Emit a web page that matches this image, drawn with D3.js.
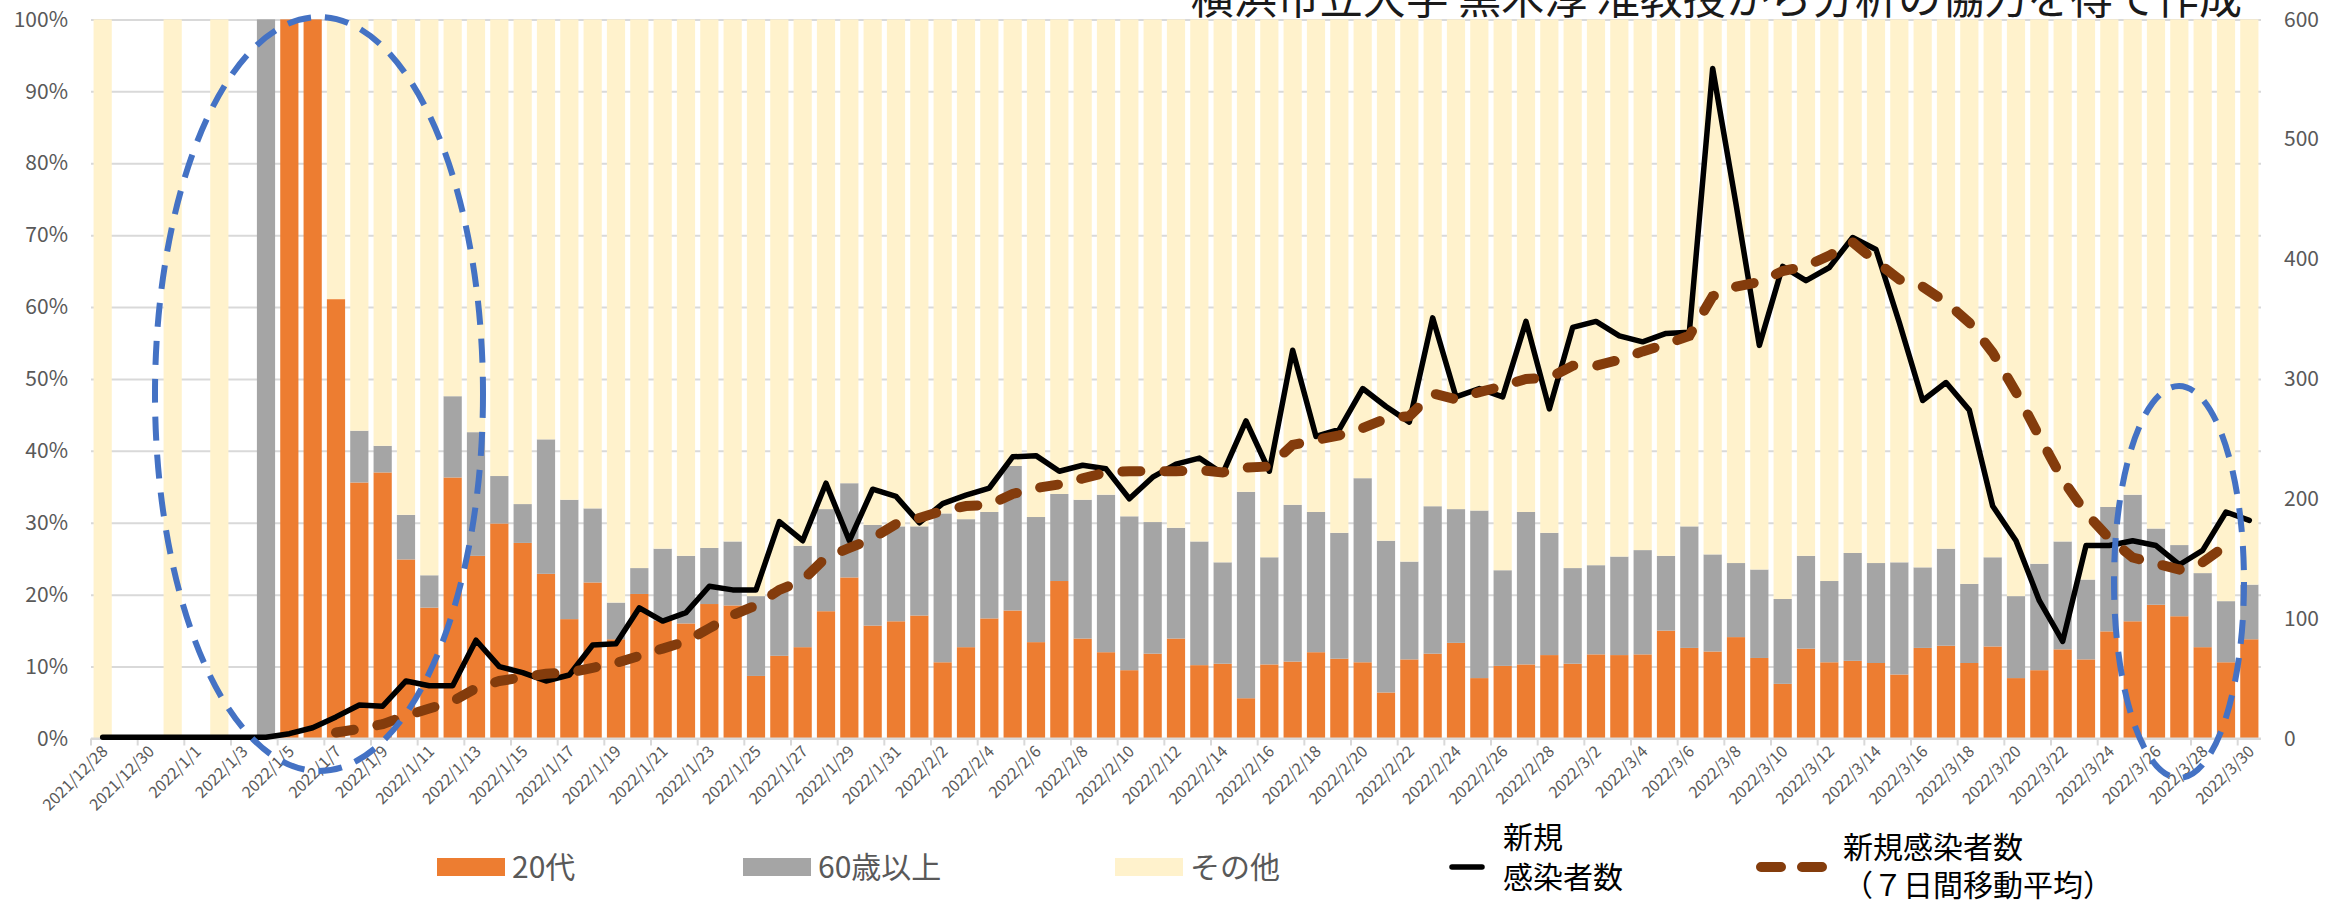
<!DOCTYPE html>
<html><head><meta charset="utf-8">
<script src="https://cdn.jsdelivr.net/npm/d3@7"></script>
<style>html,body{margin:0;padding:0;background:#fff;overflow:hidden}</style>
</head><body><svg id="chart" width="2340" height="903"></svg>
<script>
const dates = ["2021/12/28","2021/12/29","2021/12/30","2021/12/31",
"2022/1/1","2022/1/2","2022/1/3","2022/1/4","2022/1/5","2022/1/6","2022/1/7","2022/1/8","2022/1/9","2022/1/10",
"2022/1/11","2022/1/12","2022/1/13","2022/1/14","2022/1/15","2022/1/16","2022/1/17","2022/1/18","2022/1/19","2022/1/20",
"2022/1/21","2022/1/22","2022/1/23","2022/1/24","2022/1/25","2022/1/26","2022/1/27","2022/1/28","2022/1/29","2022/1/30","2022/1/31",
"2022/2/1","2022/2/2","2022/2/3","2022/2/4","2022/2/5","2022/2/6","2022/2/7","2022/2/8","2022/2/9","2022/2/10",
"2022/2/11","2022/2/12","2022/2/13","2022/2/14","2022/2/15","2022/2/16","2022/2/17","2022/2/18","2022/2/19","2022/2/20",
"2022/2/21","2022/2/22","2022/2/23","2022/2/24","2022/2/25","2022/2/26","2022/2/27","2022/2/28",
"2022/3/1","2022/3/2","2022/3/3","2022/3/4","2022/3/5","2022/3/6","2022/3/7","2022/3/8","2022/3/9","2022/3/10",
"2022/3/11","2022/3/12","2022/3/13","2022/3/14","2022/3/15","2022/3/16","2022/3/17","2022/3/18","2022/3/19","2022/3/20",
"2022/3/21","2022/3/22","2022/3/23","2022/3/24","2022/3/25","2022/3/26","2022/3/27","2022/3/28","2022/3/29","2022/3/30"];

// share of new cases (%) — null = no bar that day
const age20s = [0,null,null,0,null,0,null,0,100,100,61.1,35.6,37.0,24.9,18.2,36.3,25.4,29.9,27.2,22.9,16.6,21.7,13.8,20.1,
16.4,16.0,18.7,18.5,8.7,11.5,12.7,17.7,22.4,15.7,16.3,17.1,10.6,12.7,16.7,17.8,13.4,21.9,13.9,12.0,9.5,11.8,13.9,10.2,
10.4,5.6,10.3,10.7,12.0,11.1,10.6,6.4,11.0,11.8,13.3,8.4,10.1,10.3,11.6,10.4,11.7,11.6,11.7,15.0,12.6,12.1,14.1,11.2,
7.6,12.5,10.6,10.8,10.5,8.9,12.6,12.9,10.5,12.8,8.4,9.5,12.4,11.0,14.9,16.3,18.6,17.0,12.7,10.6,13.8];
const age60plus = [0,null,null,0,null,0,null,100,0,0,0,7.2,3.7,6.2,4.5,11.3,17.2,6.6,5.4,18.7,16.6,10.3,5.1,3.6,
10.0,9.4,7.8,8.9,11.1,9.3,14.1,14.2,13.1,14.0,13.2,12.4,20.7,17.8,14.8,20.1,17.4,12.1,19.3,21.9,21.4,18.3,15.4,17.2,
14.1,28.7,14.9,21.8,19.5,17.5,25.6,21.1,13.6,20.5,18.6,23.3,13.3,21.2,17.0,13.3,12.4,13.7,14.5,10.4,16.9,13.5,10.3,12.3,
11.8,12.9,11.3,15.0,13.9,15.6,11.2,13.5,11.0,12.4,11.4,14.8,15.0,11.1,17.3,17.6,10.6,9.9,10.3,8.5,7.6];
const others = [100,null,null,100,null,100,null,0,0,0,38.9,57.2,59.3,68.9,77.3,52.4,57.4,63.5,67.4,58.4,66.8,68.0,81.1,76.3,
73.6,74.6,73.5,72.6,80.2,79.2,73.2,68.1,64.5,70.3,70.5,70.5,68.7,69.5,68.5,62.1,69.2,66.0,66.8,66.1,69.1,69.9,70.7,72.6,
75.5,65.7,74.8,67.5,68.5,71.4,63.8,72.5,75.4,67.7,68.1,68.3,76.6,68.5,71.4,76.3,75.9,74.7,73.8,74.6,70.5,74.4,75.6,76.5,
80.6,74.6,78.1,74.2,75.6,75.5,76.2,73.6,78.5,74.8,80.2,75.7,72.6,77.9,67.8,66.1,70.8,73.1,77.0,80.9,78.6];

// new cases (right axis)
const newCases = [1,1,1,1,1,1,1,1,4,9,18,28,27,48,44,44,82,60,55,48,53,78,79,109,98,105,127,124,124,181,165,213,165,208,
202,180,196,203,209,235,236,223,228,225,200,218,229,234,221,265,223,324,252,258,292,277,264,351,285,292,285,348,275,
343,348,336,331,338,339,559,446,328,394,382,393,418,408,347,282,297,274,194,165,115,81,161,161,165,161,145,157,189,182];
// 7-day moving average (right axis)
const movingAvg = [null,null,null,null,null,null,null,null,null,null,5,8,12,19,25,31,42,48,51,54,55,59,63,69,75,81,92,103,
111,124,132,151,159,167,179,184,190,194,195,204,209,212,217,222,223,223,223,224,222,226,227,245,249,253,259,267,269,288,
283,289,294,300,301,311,311,316,323,329,336,369,377,381,390,394,403,414,398,383,377,364,347,322,289,252,216,188,167,151,
146,141,147,161,null];

const pctTicks = [0,10,20,30,40,50,60,70,80,90,100];
const countTicks = [0,100,200,300,400,500,600];
const seriesNames = ["20代","60歳以上","その他"];
const seriesColors = ["#ED7D31","#A5A5A5","#FFF2CC"];
const lineLegend1 = ["新規","感染者数"];
const lineLegend2 = ["新規感染者数","（７日間移動平均）"];
const titleText = "横浜市立大学 黒木淳 准教授から分析の協力を得て作成";

const FONT = "'Noto Sans CJK JP','Noto Sans',sans-serif";
const L = 91, R = 2261, T = 19.4, B = 738.5;
const svg = d3.select("#chart").style("font-family", FONT);
svg.append("rect").attr("width",2340).attr("height",903).attr("fill","#fff");

const idx = d3.range(dates.length);
const x = d3.scaleBand().domain(idx).range([L,R]).paddingInner(0.22).paddingOuter(0.11);
const yPct = d3.scaleLinear().domain([0,100]).range([B,T]);
const yCnt = d3.scaleLinear().domain([0,600]).range([B,T]);
const step = x.step();

// gridlines + left axis
const gl = svg.append("g").attr("transform",`translate(${L},0)`)
  .call(d3.axisLeft(yPct).tickValues(pctTicks).tickSize(-(R-L)).tickPadding(23).tickFormat(d=>d+"%"));
gl.select(".domain").remove();
gl.selectAll(".tick line").attr("stroke","#D9D9D9").attr("stroke-width",2);
gl.selectAll(".tick text").attr("fill","#595959").style("font-size","21px").style("font-family",FONT);

// right axis
const gr = svg.append("g").attr("transform",`translate(${R},0)`)
  .call(d3.axisRight(yCnt).tickValues(countTicks).tickSize(0).tickPadding(23));
gr.select(".domain").remove();
gr.selectAll(".tick text").attr("fill","#595959").style("font-size","21px").style("font-family",FONT);

// stacked bars
const rows = idx.map(i => ({i, v:[age20s[i], age60plus[i], others[i]]}));
const stack = d3.stack().keys([0,1,2]).value((d,k)=> d.v[k] == null ? 0 : d.v[k]);
const layers = stack(rows);
layers.forEach((layer, k) => {
  svg.append("g").attr("fill", seriesColors[k]).selectAll("rect")
    .data(layer.filter(d => d.data.v[k] != null && d.data.v[k] > 0))
    .join("rect")
    .attr("x", d => x(d.data.i))
    .attr("width", x.bandwidth())
    .attr("y", d => yPct(d[1]))
    .attr("height", d => yPct(d[0]) - yPct(d[1]));
});

// x axis line, ticks, labels
svg.append("line").attr("x1",L).attr("x2",R).attr("y1",B).attr("y2",B)
  .attr("stroke","#D9D9D9").attr("stroke-width",2);
const labelIdx = idx.filter(i => i % 2 === 0);
svg.append("g").selectAll("line").data(labelIdx).join("line")
  .attr("x1", i => x(i) - step*0.11).attr("x2", i => x(i) - step*0.11)
  .attr("y1", B).attr("y2", B+7).attr("stroke","#D9D9D9").attr("stroke-width",2);
const gx = svg.append("g").attr("transform",`translate(0,${B})`)
  .call(d3.axisBottom(x).tickValues(labelIdx).tickSize(0).tickFormat(i => dates[i]));
gx.select(".domain").remove();
gx.selectAll(".tick text")
  .attr("y",0).attr("dy",0)
  .attr("text-anchor","end")
  .attr("transform","translate(6,14) rotate(-45)")
  .attr("fill","#595959").style("font-size","16px").style("font-family",FONT);

// lines
const cx = i => x(i) + x.bandwidth()/2;
svg.append("path").datum(idx)
  .attr("fill","none").attr("stroke","#000").attr("stroke-width",5.5)
  .attr("stroke-linejoin","round").attr("stroke-linecap","round")
  .attr("d", d3.line().x(cx).y(i => yCnt(newCases[i])));
svg.append("path").datum(idx.filter(i => movingAvg[i] != null))
  .attr("fill","none").attr("stroke","#843C0C").attr("stroke-width",10)
  .attr("stroke-linecap","round").attr("stroke-dasharray","18,24")
  .attr("d", d3.line().x(cx).y(i => yCnt(movingAvg[i])));

// annotation ellipses
svg.append("ellipse").attr("cx",319).attr("cy",394).attr("rx",164).attr("ry",377)
  .attr("fill","none").attr("stroke","#4472C4").attr("stroke-width",6).attr("stroke-dasharray","24,14");
svg.append("ellipse").attr("cx",2179).attr("cy",582).attr("rx",65).attr("ry",196)
  .attr("fill","none").attr("stroke","#4472C4").attr("stroke-width",6).attr("stroke-dasharray","24,14");

// title (clipped at the top edge, as in the source image)
svg.append("text").attr("x",2242).attr("y",14).attr("text-anchor","end")
  .attr("fill","#1a1a1a").style("font-size","43px").text(titleText);

// legend
const lg = svg.append("g").style("font-size","30px");
const swX = [437, 743, 1115];
seriesNames.forEach((n,k) => {
  lg.append("rect").attr("x",swX[k]).attr("y",858).attr("width",68).attr("height",18).attr("fill",seriesColors[k]);
  lg.append("text").attr("x",swX[k]+75).attr("y",867).attr("dy","0.35em").attr("fill","#595959").text(n);
});
lg.append("line").attr("x1",1452).attr("x2",1482).attr("y1",867).attr("y2",867)
  .attr("stroke","#000").attr("stroke-width",5.5).attr("stroke-linecap","round");
const t1 = lg.append("text").attr("fill","#000");
t1.selectAll("tspan").data(lineLegend1).join("tspan")
  .attr("x",1503).attr("y",(d,j)=> j===0 ? 837 : 877).attr("dy","0.35em").text(d=>d);
lg.append("line").attr("x1",1761).attr("x2",1822).attr("y1",867).attr("y2",867)
  .attr("stroke","#843C0C").attr("stroke-width",10).attr("stroke-linecap","round").attr("stroke-dasharray","20,21");
const t2 = lg.append("text").attr("fill","#000");
t2.selectAll("tspan").data(lineLegend2).join("tspan")
  .attr("x",1843).attr("y",(d,j)=> j===0 ? 847 : 885).attr("dy","0.35em").text(d=>d);
</script></body></html>
